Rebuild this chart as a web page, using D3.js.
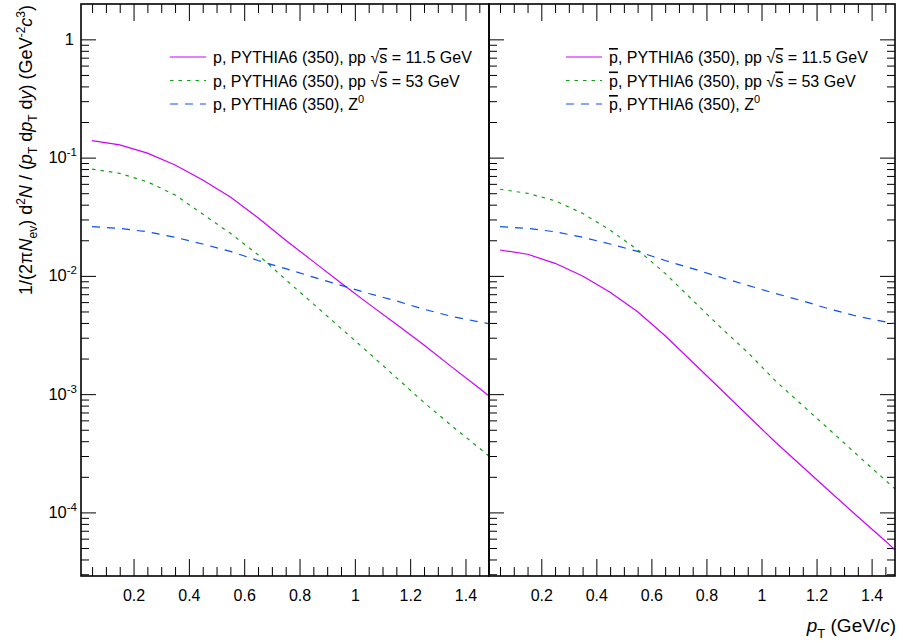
<!DOCTYPE html>
<html><head><meta charset="utf-8">
<script src="https://cdn.jsdelivr.net/npm/d3@7"></script>
<style>
body{margin:0;background:#fff}
svg{display:block}
text{font-family:"Liberation Sans",Arial,Helvetica,sans-serif;fill:#000}
</style>
</head><body>
<svg id="c" width="903" height="643"></svg>
<script>
// ---------------- data ----------------
const pT = [0.05,0.15,0.25,0.35,0.45,0.55,0.65,0.75,0.85,0.95,1.05,1.15,1.25,1.35,1.45,1.55];

// protons
const p_pp115 = [0.139,0.128,0.109,0.0866,0.0647,0.0465,0.031,0.020,0.0132,0.0087,0.0058,0.0039,0.0026,0.0017,0.00112,0.00073];
const p_pp53  = [0.080,0.0736,0.0625,0.0483,0.0333,0.0229,0.0151,0.0093,0.0058,0.0036,0.00224,0.00138,0.00085,0.00054,0.00035,0.000225];
const p_Z0    = [0.0261,0.0252,0.0236,0.0212,0.0186,0.0161,0.01349,0.01151,0.00975,0.00832,0.0071,0.00614,0.00522,0.00454,0.00408,0.0037];

// antiprotons
const pbar_pp115 = [0.01656,0.01524,0.01277,0.00998,0.00727,0.00498,0.00312,0.00186,0.00111,0.00066,0.000394,0.000242,0.000149,0.000092,0.0000574,0.000035];
const pbar_pp53  = [0.054,0.0499,0.0432,0.0338,0.0244,0.0166,0.0105,0.00622,0.0037,0.00225,0.0013,0.0008,0.000493,0.000303,0.000187,0.000116];
const pbar_Z0    = [0.0261,0.0252,0.0236,0.0212,0.0186,0.0161,0.01349,0.01151,0.00975,0.00832,0.0071,0.00614,0.00522,0.00454,0.00408,0.0037];

const xTickValues = [0.2,0.4,0.6,0.8,1.0,1.2,1.4];
const xTickLabels = ["0.2","0.4","0.6","0.8","1","1.2","1.4"];
const yDecadeExps = [0,-1,-2,-3,-4];

// ---------------- style ----------------
const colors = ["#cc00ff","#12a012","#0a50f0"];
const dashes = [null,"3.5,5","8,7"];
const xDomain = [0.01,1.485];
const yDomain = [2.9e-5,1.99];
const yTop = 4, yBottom = 576;

const svg = d3.select("#c");
const y = d3.scaleLog().domain(yDomain).range([yBottom, yTop]);

const panels = [
  {x0:81, x1:489, data:[p_pp115,p_pp53,p_Z0], bar:false, legendX:170, yLabels:true, rightTicks:false},
  {x0:489, x1:895, data:[pbar_pp115,pbar_pp53,pbar_Z0], bar:true, legendX:566, yLabels:false, rightTicks:true}
];

const xMinor = d3.range(0.05,1.49,0.05).map(v=>+v.toFixed(2)).filter(v=>!xTickValues.some(t=>Math.abs(t-v)<1e-6));
const yMinor = [];
for (let e=-5;e<=0;e++) for (let k=2;k<=9;k++){const v=k*Math.pow(10,e); if(v>=yDomain[0]&&v<=yDomain[1]) yMinor.push(v);}
const yMajor = yDecadeExps.map(e=>Math.pow(10,e));

function styleAxis(g){
  g.select(".domain").remove();
  g.selectAll("line").attr("stroke","#000").attr("stroke-width",1);
}

panels.forEach((P,pi)=>{
  const x = d3.scaleLinear().domain(xDomain).range([P.x0,P.x1]);
  const g = svg.append("g");
  const clipId = "clip"+pi;
  svg.append("clipPath").attr("id",clipId).append("rect")
    .attr("x",P.x0).attr("y",yTop).attr("width",P.x1-P.x0).attr("height",yBottom-yTop);

  g.append("g").attr("transform",`translate(0,${yBottom})`)
    .call(d3.axisBottom(x).tickValues(xTickValues).tickSize(-17).tickSizeOuter(0).tickPadding(14)
      .tickFormat((d,i)=>xTickLabels[i]))
    .call(styleAxis)
    .call(a=>a.selectAll("text").attr("font-size",16).attr("font-family","Liberation Sans, Arial, sans-serif").attr("fill","#000"));
  g.append("g").attr("transform",`translate(0,${yBottom})`)
    .call(d3.axisBottom(x).tickValues(xMinor).tickSize(-9).tickSizeOuter(0).tickFormat(""))
    .call(styleAxis);
  g.append("g").attr("transform",`translate(0,${yTop})`)
    .call(d3.axisTop(x).tickValues(xTickValues).tickSize(-17).tickSizeOuter(0).tickFormat(""))
    .call(styleAxis);
  g.append("g").attr("transform",`translate(0,${yTop})`)
    .call(d3.axisTop(x).tickValues(xMinor).tickSize(-9).tickSizeOuter(0).tickFormat(""))
    .call(styleAxis);
  g.append("g").attr("transform",`translate(${P.x0},0)`)
    .call(d3.axisLeft(y).tickValues(yMajor).tickSize(-15).tickSizeOuter(0).tickFormat(""))
    .call(styleAxis);
  g.append("g").attr("transform",`translate(${P.x0},0)`)
    .call(d3.axisLeft(y).tickValues(yMinor).tickSize(-8).tickSizeOuter(0).tickFormat(""))
    .call(styleAxis);
  if (P.rightTicks){
    g.append("g").attr("transform",`translate(${P.x1},0)`)
      .call(d3.axisRight(y).tickValues(yMajor).tickSize(-15).tickSizeOuter(0).tickFormat(""))
      .call(styleAxis);
    g.append("g").attr("transform",`translate(${P.x1},0)`)
      .call(d3.axisRight(y).tickValues(yMinor).tickSize(-8).tickSizeOuter(0).tickFormat(""))
      .call(styleAxis);
  }
  if (P.yLabels){
    yDecadeExps.forEach(e=>{
      const t = g.append("text").attr("x",P.x0-4).attr("y",y(Math.pow(10,e))+5.5)
        .attr("text-anchor","end").attr("font-size",16.5);
      if (e===0){ t.attr("x",P.x0-7).text("1"); }
      else {
        t.append("tspan").text("10");
        t.append("tspan").attr("font-size",11.5).attr("dy",-7).text("-"+(-e));
      }
    });
  }

  const line = d3.line().x(d=>x(d[0])).y(d=>y(d[1]));
  P.data.forEach((arr,si)=>{
    g.append("path").datum(pT.map((v,i)=>[v,arr[i]]))
      .attr("d",line).attr("fill","none").attr("stroke",colors[si])
      .attr("stroke-width",1.2).attr("stroke-dasharray",dashes[si])
      .attr("clip-path",`url(#${clipId})`);
  });

  g.append("rect").attr("x",P.x0).attr("y",yTop).attr("width",P.x1-P.x0).attr("height",yBottom-yTop)
    .attr("fill","none").attr("stroke","#000").attr("stroke-width",1.6);

  const rows = [57,80.5,104];
  rows.forEach((ry,si)=>{
    g.append("line").attr("x1",P.legendX).attr("x2",P.legendX+36).attr("y1",ry).attr("y2",ry)
      .attr("stroke",colors[si]).attr("stroke-width",1.2).attr("stroke-dasharray",dashes[si]);
    const t = g.append("text").attr("x",P.legendX+43).attr("y",ry+6).attr("font-size",16);
    const pt = t.append("tspan").text("p");
    if (P.bar) pt.style("text-decoration","overline");
    t.append("tspan").text(", PYTHIA6 (350), ");
    if (si<2){
      t.append("tspan").text("pp \u221A");
      t.append("tspan").style("text-decoration","overline").text("s");
      t.append("tspan").text(si===0?" = 11.5 GeV":" = 53 GeV");
    } else {
      t.append("tspan").text("Z");
      t.append("tspan").attr("font-size",11).attr("dy",-7).text("0");
    }
  });
});

{
  const t = svg.append("text").attr("transform","translate(32,5) rotate(-90)")
    .attr("text-anchor","end").attr("font-size",18);
  const seg = (s,o={})=>{
    const ts = t.append("tspan").text(s);
    if (o.it) ts.attr("font-style","italic");
    if (o.dy) ts.attr("dy",o.dy);
    if (o.fs) ts.attr("font-size",o.fs);
    return ts;
  };
  seg("1/(2\u03C0");
  seg("N",{it:1});
  seg("ev",{fs:12,dy:5});
  seg(") d",{dy:-5});
  seg("2",{fs:12,dy:-7});
  seg("N",{it:1,dy:7});
  seg(" / (");
  seg("p",{it:1});
  seg("T",{fs:12,dy:5});
  seg(" d",{dy:-5});
  seg("p",{it:1});
  seg("T",{fs:12,dy:5});
  seg(" d",{dy:-5});
  seg("y",{it:1});
  seg(") (GeV");
  seg("-2",{fs:12,dy:-7});
  seg("c",{it:1,dy:7});
  seg("3",{fs:12,dy:-7});
  seg(")",{dy:7});
}
{
  const t = svg.append("text").attr("x",896).attr("y",632).attr("text-anchor","end").attr("font-size",19);
  t.append("tspan").attr("font-style","italic").text("p");
  t.append("tspan").attr("font-size",13).attr("dy",6).text("T");
  t.append("tspan").attr("dy",-6).text(" (GeV/");
  t.append("tspan").attr("font-style","italic").text("c");
  t.append("tspan").text(")");
}
</script>
</body></html>
